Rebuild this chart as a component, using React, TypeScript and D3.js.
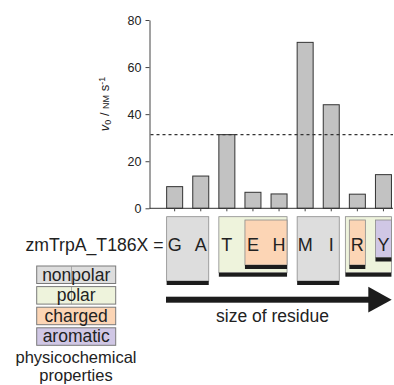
import { axisLeft, scaleBand, scaleLinear, select } from "d3";
import { useEffect, useRef } from "react";

const residues = ["G", "A", "T", "E", "H", "M", "I", "R", "Y"];
const rates = [9.2, 13.7, 31.3, 6.8, 6.1, 70.5, 44.0, 6.0, 14.3];
const yTicks = [0, 20, 40, 60, 80];
const wildTypeRate = 31.3;

// residue groups drawn as boxes under the bars (index range into residues)
const groupClass = ["nonpolar", "polar", "charged", "nonpolar", "polar", "charged", "aromatic"];
const groupFrom = [0, 2, 3, 5, 7, 7, 8];
const groupTo = [1, 4, 4, 6, 8, 7, 8];

const legendLabels = ["nonpolar", "polar", "charged", "aromatic"];

const FONT = "'Liberation Sans', Arial, Helvetica, sans-serif";

const fills = {
  nonpolar: "#dddddd",
  polar: "#eef3dc",
  charged: "#fcd5b5",
  aromatic: "#d0c7e5",
};
const boxBottom = { nonpolar: 281, polar: 272.7, charged: 265, aromatic: 257.5 };
const boxTop = { nonpolar: 216.7, polar: 216.7, charged: 220, aromatic: 220 };

function App() {
  const svgRef = useRef(null);

  useEffect(() => {
    const svg = select(svgRef.current);
    svg.selectAll("*").remove();

    const x = scaleBand()
      .domain(residues)
      .range([161.6, 396.5])
      .paddingInner(0.387)
      .paddingOuter(0.1935);
    const y = scaleLinear().domain([0, 80]).range([208.3, 20]);
    const axisX = 149.5;

    // bars
    svg
      .selectAll(".bar")
      .data(residues)
      .join("rect")
      .attr("class", "bar")
      .attr("x", (d) => x(d))
      .attr("y", (d, i) => y(rates[i]))
      .attr("width", x.bandwidth())
      .attr("height", (d, i) => y(0) - y(rates[i]))
      .attr("fill", "#c2c2c2")
      .attr("stroke", "#333")
      .attr("stroke-width", 1);

    // y axis
    const gy = svg
      .append("g")
      .attr("transform", `translate(${axisX},0)`)
      .call(axisLeft(y).tickValues(yTicks).tickSize(4).tickSizeOuter(0).tickPadding(4));
    gy.select(".domain").attr("stroke", "#444");
    gy.selectAll(".tick line").attr("stroke", "#444");
    gy.selectAll(".tick text")
      .attr("font-family", FONT)
      .attr("font-size", 12.5)
      .attr("fill", "#222");

    // x axis line + ticks
    svg
      .append("line")
      .attr("x1", axisX)
      .attr("x2", 393)
      .attr("y1", y(0))
      .attr("y2", y(0))
      .attr("stroke", "#333");
    svg
      .selectAll(".xtick")
      .data(residues)
      .join("line")
      .attr("x1", (d) => x(d) + x.bandwidth() / 2)
      .attr("x2", (d) => x(d) + x.bandwidth() / 2)
      .attr("y1", y(0))
      .attr("y2", y(0) + 3)
      .attr("stroke", "#444");

    // dashed reference line
    svg
      .append("line")
      .attr("x1", axisX + 1)
      .attr("x2", 393)
      .attr("y1", y(wildTypeRate))
      .attr("y2", y(wildTypeRate))
      .attr("stroke", "#333")
      .attr("stroke-width", 1.2)
      .attr("stroke-dasharray", "3,3");

    // y label
    const yl = svg
      .append("text")
      .attr("transform", "translate(109,104) rotate(-90)")
      .attr("text-anchor", "middle")
      .attr("font-family", FONT)
      .attr("font-size", 13)
      .attr("fill", "#222");
    yl.append("tspan").attr("font-style", "italic").text("v");
    yl.append("tspan").attr("font-size", 9).attr("baseline-shift", "-25%").text("0");
    yl.append("tspan").text(" / ");
    yl.append("tspan").attr("font-variant", "small-caps").text("nm");
    yl.append("tspan").text(" s");
    yl.append("tspan").attr("font-size", 9).attr("baseline-shift", "45%").text("-1");

    // residue group boxes
    const groups = groupClass.map((c, i) => ({ c, from: groupFrom[i], to: groupTo[i] }));
    groups.forEach((g, i) => {
      const padL = g.c === "polar" && i === 4 ? 4 : 0;
      const x0 = x(residues[g.from]) - padL;
      const x1 = x(residues[g.to]) + x.bandwidth();
      svg
        .append("rect")
        .attr("x", x0)
        .attr("y", boxTop[g.c])
        .attr("width", x1 - x0)
        .attr("height", boxBottom[g.c] - boxTop[g.c])
        .attr("fill", fills[g.c])
        .attr("stroke", "#8a8a8a")
        .attr("stroke-width", 0.8);
      svg
        .append("rect")
        .attr("x", x0)
        .attr("y", boxBottom[g.c])
        .attr("width", x1 - x0)
        .attr("height", 4)
        .attr("fill", "#1c1c1c");
    });

    // residue letters
    svg
      .selectAll(".res")
      .data(residues)
      .join("text")
      .attr("x", (d) => x(d) + x.bandwidth() / 2)
      .attr("y", 250.7)
      .attr("text-anchor", "middle")
      .attr("font-family", FONT)
      .attr("font-size", 18)
      .attr("fill", "#222")
      .text((d) => d);

    svg
      .append("text")
      .attr("x", 25.5)
      .attr("y", 250.7)
      .attr("font-family", FONT)
      .attr("font-size", 18)
      .attr("fill", "#222")
      .attr("textLength", 138)
      .attr("lengthAdjust", "spacingAndGlyphs")
      .text("zmTrpA_T186X =");

    // legend
    const lg = svg.append("g");
    legendLabels.forEach((lab, i) => {
      const top = 266 + i * 20.6;
      lg.append("rect")
        .attr("x", 36.7)
        .attr("y", top)
        .attr("width", 79)
        .attr("height", 17.5)
        .attr("fill", fills[lab])
        .attr("stroke", "#7a7a7a")
        .attr("stroke-width", 1);
      if (i < 2) {
        lg.append("line")
          .attr("x1", 71.5)
          .attr("x2", 71.5)
          .attr("y1", top)
          .attr("y2", top + 17.5)
          .attr("stroke", "#9a9a9a")
          .attr("stroke-width", 0.8);
      }
      lg.append("text")
        .attr("x", 76.2)
        .attr("y", top + 14.5)
        .attr("text-anchor", "middle")
        .attr("font-family", FONT)
        .attr("font-size", 17.5)
        .attr("fill", "#222")
        .text(lab);
    });
    ["physicochemical", "properties"].forEach((t, i) => {
      lg.append("text")
        .attr("x", 76)
        .attr("y", 363 + i * 17.5)
        .attr("text-anchor", "middle")
        .attr("font-family", FONT)
        .attr("font-size", 16.5)
        .attr("fill", "#222")
        .text(t);
    });

    // size arrow
    svg
      .append("rect")
      .attr("x", 166)
      .attr("y", 296.7)
      .attr("width", 204)
      .attr("height", 6)
      .attr("fill", "#1c1c1c");
    svg
      .append("path")
      .attr("d", "M368.3,286.7 L391.7,299.7 L368.3,312.5 Z")
      .attr("fill", "#1c1c1c");
    svg
      .append("text")
      .attr("x", 272.5)
      .attr("y", 321.7)
      .attr("text-anchor", "middle")
      .attr("font-family", FONT)
      .attr("font-size", 17.5)
      .attr("fill", "#222")
      .text("size of residue");
  }, []);

  return (
    <svg
      ref={svgRef}
      width={394}
      height={385}
      style={{ position: "absolute", left: 0, top: 0, background: "#fff" }}
    />
  );
}

export default App;
